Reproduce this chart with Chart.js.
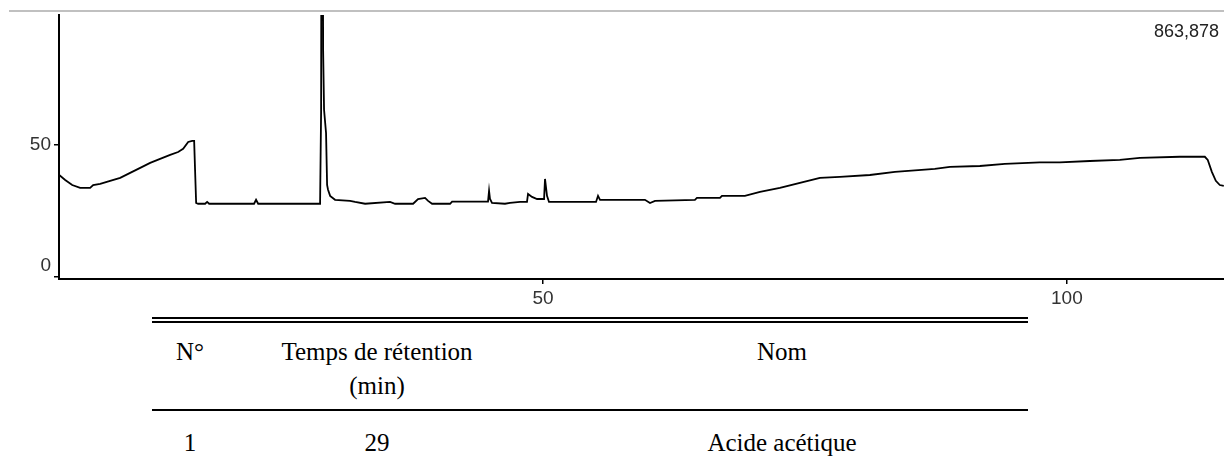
<!DOCTYPE html>
<html>
<head>
<meta charset="utf-8">
<script src="https://cdn.jsdelivr.net/npm/chart.js@4.4.1/dist/chart.umd.min.js"></script>
<style>
  body { margin: 0; background: #fff; width: 1224px; height: 461px; position: relative; overflow: hidden; }
  #topRule { position: absolute; left: 9px; top: 10px; width: 1215px; height: 2px; background: #c0c0c0; }
  #chart { position: absolute; left: 0; top: 0; }
  #maxLabel { position: absolute; right: 5px; top: 21px; font: 18px "Liberation Sans", Arial, sans-serif; color: #222; }
  .rule { position: absolute; left: 152px; width: 876px; height: 2px; background: #000; }
  .cell { position: absolute; font: 25px "Liberation Serif", "Times New Roman", serif; color: #000;
          transform: translate(-50%, -50%); white-space: nowrap; }
</style>
</head>
<body>
<div id="topRule"></div>
<canvas id="chart" width="1224" height="320"></canvas>
<div id="maxLabel">863,878</div>
<div id="table"></div>
<script>
// Chromatogram trace (retention time in min, detector signal)
const times = [3.82, 4.39, 5.06, 5.82, 6.77, 7.06, 7.73, 8.68, 9.64, 10.59, 11.55, 12.50, 13.45, 14.41,
  15.17, 15.65, 16.13, 16.51, 16.70, 16.79, 16.89, 17.08, 17.75, 17.94, 18.13, 22.42, 22.61, 22.81,
  28.72, 28.82, 28.91, 29.01, 29.10, 29.29, 29.39, 29.48, 29.68, 30.15, 31.58, 32.06, 33.02, 35.40,
  35.88, 37.60, 38.07, 38.74, 39.03, 39.41, 41.13, 41.32, 44.75, 44.85, 44.94, 45.13, 46.37, 46.85,
  47.81, 48.47, 48.57, 48.95, 49.43, 50.10, 50.19, 50.38, 50.57, 55.06, 55.25, 55.44, 59.73, 60.21,
  60.69, 64.50, 64.69, 66.89, 67.08, 69.27, 70.71, 72.61, 74.52, 76.43, 78.34, 81.20, 83.59, 87.40,
  88.84, 91.70, 94.08, 97.42, 99.33, 102.19, 105.06, 106.97, 110.78, 113.17, 113.45, 113.84, 114.22,
  114.60, 114.98];
const signal = [38.6, 36.7, 34.8, 33.7, 33.7, 34.8, 35.2, 36.4, 37.5, 39.4, 41.3, 43.2, 44.7, 46.2,
  47.3, 48.5, 51.1, 51.5, 51.5, 40.2, 28.0, 27.7, 27.7, 28.4, 27.7, 27.7, 29.2, 27.7,
  27.7, 63.3, 330, 86.0, 63.3, 54.5, 34.8, 33.0, 30.7, 29.2, 28.8, 28.4, 27.7, 28.4,
  27.7, 27.7, 29.5, 29.9, 28.8, 27.7, 27.7, 28.5, 28.5, 32.6, 29.5, 28.0, 27.7, 28.0,
  28.4, 28.4, 31.4, 30.3, 29.5, 29.5, 37.1, 30.7, 28.4, 28.4, 30.7, 29.2, 29.2, 28.0,
  28.8, 29.2, 29.9, 29.9, 30.7, 30.7, 32.2, 33.7, 35.6, 37.5, 37.9, 38.6, 39.8, 40.9,
  41.7, 42.0, 42.8, 43.4, 43.4, 43.9, 44.3, 45.1, 45.5, 45.5, 44.3, 39.8, 36.4,
  34.8, 34.5];

const xTicks = [50, 100];
const yTicks = [0, 50];

// Peak table
const tableHeader = ['N°', 'Temps de rétention\n(min)', 'Nom'];
const tableRows = [['1', '29', 'Acide acétique']];

const points = times.map((t, i) => ({ x: t, y: signal[i] }));

const tickFont = { family: '"Liberation Sans", Arial, sans-serif', size: 19 };

new Chart(document.getElementById('chart'), {
    type: 'line',
    data: {
        datasets: [{
            data: points,
            borderColor: '#000',
            borderWidth: 1.8,
            pointRadius: 0,
            tension: 0,
            fill: false
        }]
    },
    options: {
        responsive: false,
        animation: false,
        devicePixelRatio: 1,
        layout: { padding: { top: 15, right: 0, left: 0, bottom: 0 } },
        plugins: { legend: { display: false }, tooltip: { enabled: false } },
        scales: {
            x: {
                type: 'linear',
                min: 3.8,
                max: 115,
                afterBuildTicks: s => { s.ticks = xTicks.map(v => ({ value: v })); },
                afterFit: s => { s.height = 41; },
                grid: { display: true, drawOnChartArea: false, drawTicks: true, tickLength: 5, color: '#000', lineWidth: 1.5 },
                border: { display: true, color: '#000', width: 2 },
                ticks: { font: tickFont, color: '#333', padding: 3, maxRotation: 0 }
            },
            y: {
                min: -0.8,
                max: 99.2,
                afterBuildTicks: s => { s.ticks = yTicks.map(v => ({ value: v })); },
                afterFit: s => { s.width = 59; },
                grid: { display: true, drawOnChartArea: false, drawTicks: true, tickLength: 5, color: '#000', lineWidth: 1.5 },
                border: { display: true, color: '#000', width: 2 },
                // the 0 label sits above its tick, clear of the x axis
                ticks: { font: tickFont, color: '#333', padding: 3,
                         callback: v => v === 0 ? ['0', ''] : String(v) }
            }
        }
    }
});

// build the table under the chart
const table = document.getElementById('table');
function rule(top) {
    const d = document.createElement('div');
    d.className = 'rule';
    d.style.top = top + 'px';
    table.appendChild(d);
}
function cell(text, cx, cy) {
    const d = document.createElement('div');
    d.className = 'cell';
    d.style.left = cx + 'px';
    d.style.top = cy + 'px';
    d.style.textAlign = 'center';
    d.style.lineHeight = '34px';
    d.innerHTML = text.replace('\n', '<br>');
    table.appendChild(d);
}
const colCenters = [190, 377, 782];
rule(317);
rule(321);
tableHeader.forEach((h, i) => cell(h, colCenters[i], h.includes('\n') ? 369 : 352));
rule(409);
tableRows.forEach((r, j) => r.forEach((v, i) => cell(v, colCenters[i], 443 + j * 34)));
</script>
</body>
</html>
